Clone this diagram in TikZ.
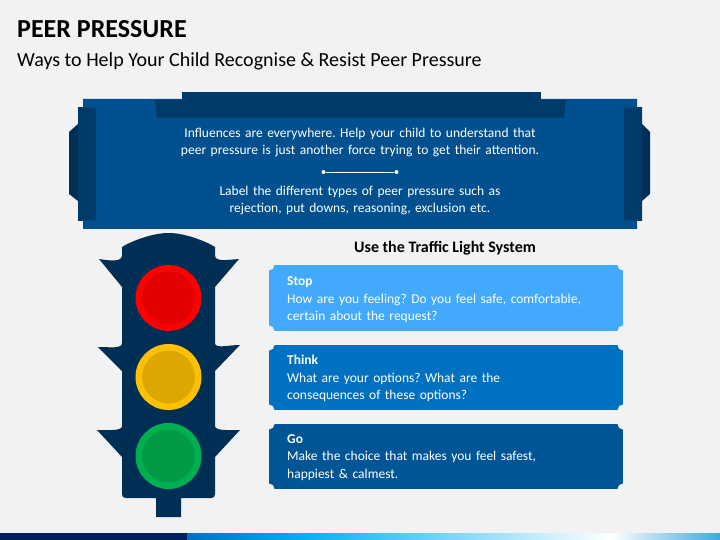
\documentclass[tikz,border=0pt]{standalone}
\usepackage{fontspec}
\setmainfont{Carlito}
\definecolor{pagebg}{HTML}{F2F2F2}
\definecolor{bannerblue}{HTML}{00508F}
\definecolor{banddark}{HTML}{003A68}
\definecolor{lightnavy}{HTML}{002F56}
\definecolor{stopblue}{HTML}{42A9FC}
\definecolor{thinkblue}{HTML}{0070C0}
\definecolor{goblue}{HTML}{005596}
\definecolor{redouter}{HTML}{FF0000}
\definecolor{redinner}{HTML}{E30000}
\definecolor{amberouter}{HTML}{FFC000}
\definecolor{amberinner}{HTML}{DDA600}
\definecolor{greenouter}{HTML}{00B050}
\definecolor{greeninner}{HTML}{009A46}
\definecolor{footnavy}{HTML}{002060}
\definecolor{footsky}{HTML}{00B0F0}
\definecolor{footend}{HTML}{3FA8DC}
\tikzset{
    bannertext/.style={text=white,align=center,font=\fontsize{13.5}{17.4}\selectfont\frenchspacing,text width=400pt},
    boxtext/.style={text=white,align=left,anchor=north west,font=\fontsize{13.5}{17.6}\selectfont\frenchspacing,text width=320pt,inner sep=0pt},
    divdot/.style={circle,fill=white,inner sep=0pt,minimum size=4pt},
}
\begin{document}
\begin{tikzpicture}[x=1pt,y=-1pt]
    \useasboundingbox (0,0) rectangle (720,540);
    \fill[pagebg] (0,0) rectangle (720,540);
    % heading
    \node[anchor=base west,inner sep=0pt,font=\fontsize{26}{30}\bfseries\selectfont,text=black] (title) at (17,38) {PEER PRESSURE};
    \node[anchor=base west,inner sep=0pt,font=\fontsize{20}{24}\selectfont,text=black] (subtitle) at (17,66.5) {Ways to Help Your Child Recognise \& Resist Peer Pressure};
    % banner
    \fill[banddark] (182,92) rectangle (541,100);
    \fill[bannerblue] (83,99) -- (182,99) -- (182,100) -- (541,100) -- (541,99) -- (637,99) -- (637,229) -- (83,229) -- cycle;
    \fill[banddark] (155,100) -- (566,100) -- (564,118) -- (157,118) -- cycle;
    \fill[lightnavy] (78,124) -- (69,132) -- (69,194) -- (78,201) -- cycle;
    \fill[banddark] (78,107) -- (96,108) -- (96,220) -- (78,221) -- cycle;
    \fill[lightnavy] (642,124) -- (650,132) -- (650,194) -- (642,201) -- cycle;
    \fill[banddark] (642,107) -- (624,108) -- (624,220) -- (642,221) -- cycle;
    \node[bannertext] (intro) at (360,142.5) {Influences are everywhere. Help your child to understand that\\peer pressure is just another force trying to get their attention.};
    \node[divdot] (dotleft) at (323.5,172) {};
    \node[divdot] (dotright) at (396.5,172) {};
    \draw[white,line width=0.8pt] (dotleft) -- (dotright);
    \node[bannertext] (label) at (360,200.5) {Label the different types of peer pressure such as\\rejection, put downs, reasoning, exclusion etc.};
    % traffic light
    \fill[lightnavy] (168.5,233) .. controls (150,233) and (128,243) .. (122,247)
        -- (122,255) .. controls (122,262) and (112,261) .. (99,259) -- (122,287)
        -- (122,343) .. controls (122,349) and (110,347) .. (98,347) -- (122,371)
        -- (122,426) .. controls (122,431) and (110,430) .. (97,430) -- (122,457)
        -- (122,494) .. controls (122,497) and (123,498) .. (126,498) -- (156,498)
        -- (156,517) -- (181,517) -- (181,498) -- (211,498)
        .. controls (214,498) and (215,497) .. (215,494) -- (215,457)
        -- (240,430) .. controls (228,430) and (215,431) .. (215,426) -- (215,371)
        -- (240,345) .. controls (228,345) and (215,349) .. (215,343) -- (215,287)
        -- (239,259) .. controls (225,260) and (215,262) .. (215,255) -- (215,247)
        .. controls (209,243) and (187,233) .. (168.5,233) -- cycle;
    \filldraw[fill=redinner,draw=redouter,line width=6.5pt] (168.5,298) circle[radius=29.75];
    \filldraw[fill=amberinner,draw=amberouter,line width=6.5pt] (168.5,377) circle[radius=29.75];
    \filldraw[fill=greeninner,draw=greenouter,line width=6.5pt] (168.5,456) circle[radius=29.75];
    % steps
    \node[anchor=base,inner sep=0pt,font=\fontsize{16}{18}\bfseries\selectfont,text=black] (system) at (445,252) {Use the Traffic Light System};
    \foreach \boxtop/\boxbot/\boxcol in {265/331/stopblue,345/410/thinkblue,424/489/goblue}{
        \fill[\boxcol] (269,\boxtop) rectangle (623,\boxbot);
        \foreach \cx in {269,623}{
            \fill[pagebg] (\cx,\boxtop) circle[radius=5.5];
            \fill[pagebg] (\cx,\boxbot) circle[radius=5.5];
        }
    }
    \node[boxtext] (stop) at (287,276.5) {\textbf{Stop}\\How are you feeling? Do you feel safe, comfortable,\\certain about the request?};
    \node[boxtext] (think) at (287,355) {\textbf{Think}\\What are your options? What are the\\consequences of these options?};
    \node[boxtext] (go) at (287,434) {\textbf{Go}\\Make the choice that makes you feel safest,\\happiest \& calmest.};
    % footer
    \fill[left color=thinkblue,right color=footsky] (187,533) rectangle (300,540);
    \fill[left color=footsky,right color=white] (300,533) rectangle (610,540);
    \fill[left color=white,right color=footend] (610,533) rectangle (720,540);
    \fill[footnavy] (0,533) rectangle (187,540);
\end{tikzpicture}
\end{document}
